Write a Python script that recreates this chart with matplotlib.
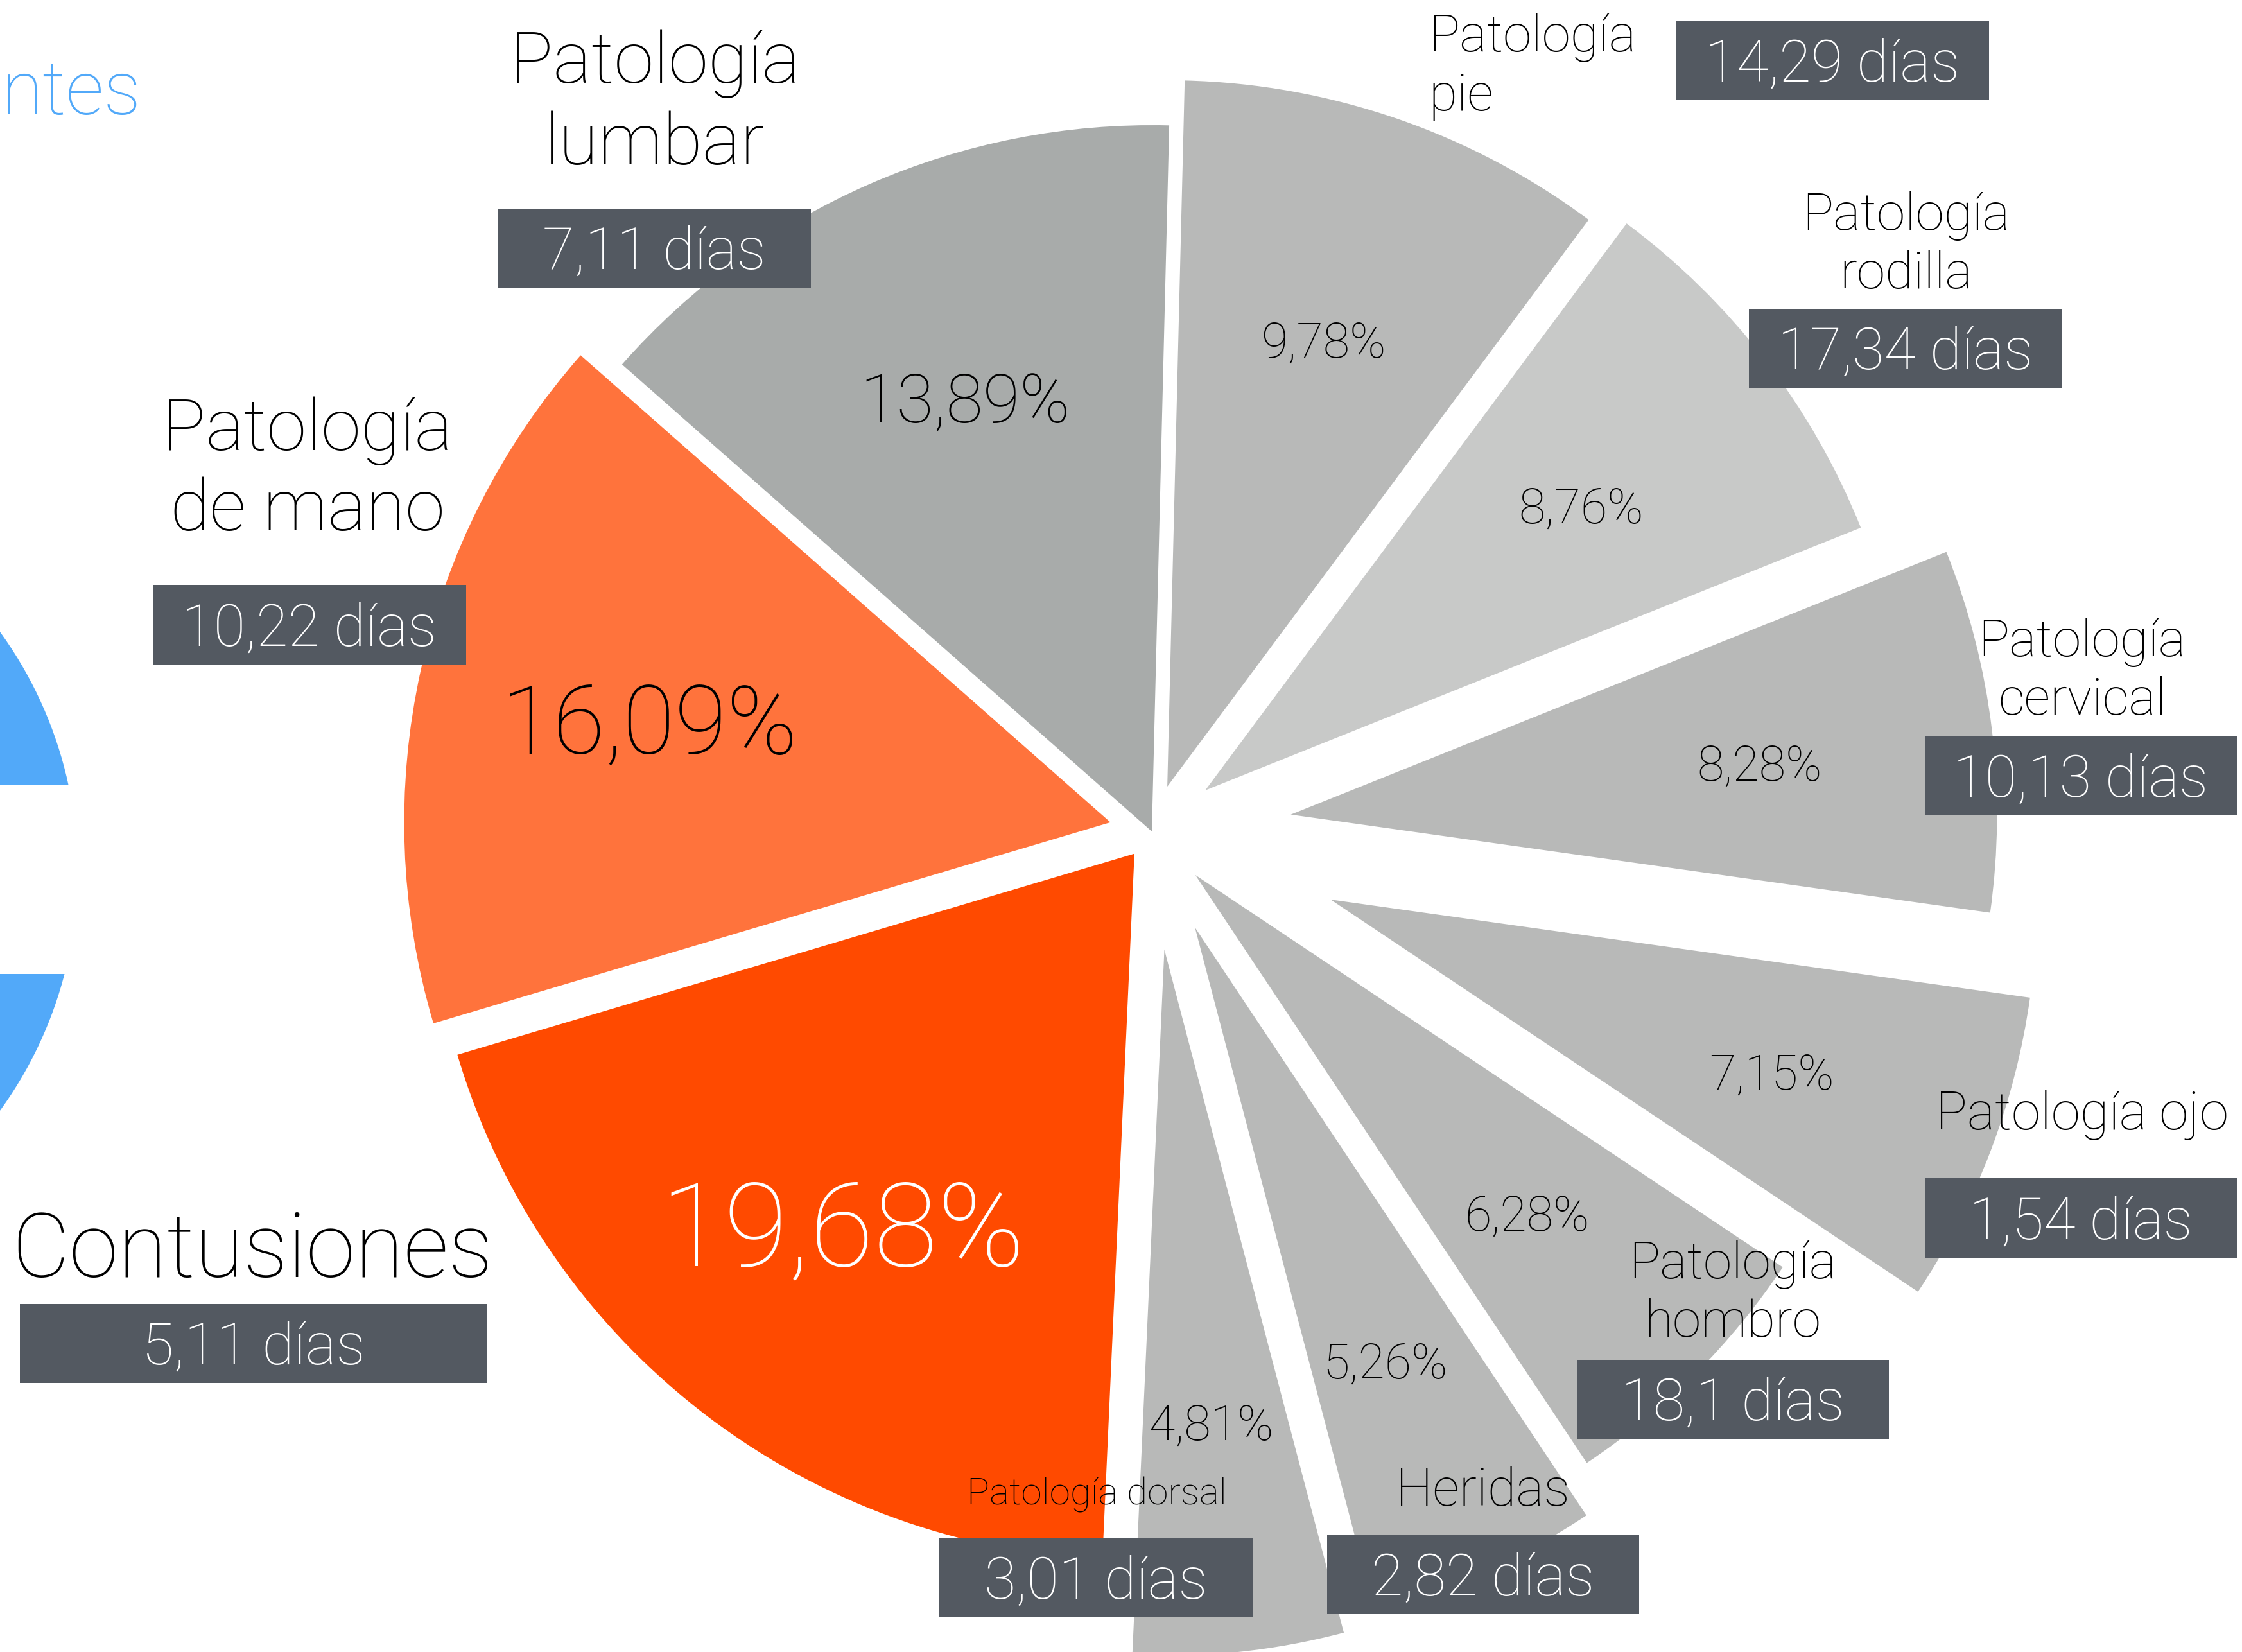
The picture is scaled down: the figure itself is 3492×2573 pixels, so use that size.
import matplotlib
matplotlib.use('Agg')
import matplotlib.pyplot as plt
from matplotlib.patches import Rectangle, Circle

# ---------------- data ----------------
categories = ["Contusiones", "Patología\nde mano", "Patología\nlumbar", "Patología\npie",
              "Patología\nrodilla", "Patología\ncervical", "Patología ojo",
              "Patología\nhombro", "Heridas", "Patología dorsal"]
percentages = [19.68, 16.09, 13.89, 9.78, 8.76, 8.28, 7.15, 6.28, 5.26, 4.81]
dias = [5.11, 10.22, 7.11, 14.29, 17.34, 10.13, 1.54, 18.1, 2.82, 3.01]
side_title = "ntes"

# ---------------- style ----------------
colors = ['#FF4A00', '#FF733C', '#A8ABAA', '#B8B9B8', '#C8C9C8',
          '#B8B9B8', '#B8B9B8', '#B8B9B8', '#B8B9B8', '#B8B9B8']
explode_px = [44, 66, 0, 74, 105, 218, 298, 96, 164, 185]
BOX = '#535961'
BLUE = '#52A9F9'
FONT = ['Roboto', 'DejaVu Sans']
WEIGHT = 'light'
NAME_SCALE = 1.05
BOX_SCALE = 1.07
PCT_SCALE = 1.11

W, H = 3492, 2573
DPI = 100
fig = plt.figure(figsize=(W / DPI, H / DPI), dpi=DPI)
ax = fig.add_axes([0, 0, 1, 1])

# partial blue chart at the left edge
ax.add_patch(Circle((-514, 1357), 635, color=BLUE, lw=0))
ax.add_patch(Rectangle((-700, 1222), 900, 295, color='white', lw=0))

ax.pie(percentages, explode=explode_px, colors=colors, startangle=92.6,
       counterclock=True, radius=1100, center=(1794, 1295),
       wedgeprops=dict(linewidth=0))
ax.set_xlim(0, W)
ax.set_ylim(H, 0)
ax.set_aspect('equal')
ax.axis('off')


def txt(x, y, s, size, color='black', ha='center'):
    ax.text(x, y, s, fontsize=size, color=color, ha=ha, va='baseline',
            family=FONT, fontweight=WEIGHT)


ax.text(2, 178, side_title, fontsize=80 * NAME_SCALE, color=BLUE, ha='left',
        va='baseline', family=FONT, fontweight=WEIGHT)

# name labels: x, first baseline, line spacing, size, ha
name_layout = [
    (393, 1989, 0, 95, 'center'),
    (479, 701, 125, 77, 'center'),
    (1020, 129, 127, 77, 'center'),
    (2225, 80, 91, 55, 'left'),
    (2969, 358, 91, 55, 'center'),
    (3243, 1022, 91, 55, 'center'),
    (3243, 1759, 0, 56, 'center'),
    (2699, 1991, 91, 55, 'center'),
    (2309, 2345, 0, 56, 'center'),
    (1708, 2343, 0, 40, 'center'),
]
# boxes: x0, y0, width, height
box_layout = [
    (31, 2031, 728, 123),
    (238, 911, 488, 124),
    (775, 325, 488, 123),
    (2610, 33, 488, 123),
    (2724, 481, 488, 123),
    (2998, 1147, 486, 123),
    (2998, 1835, 486, 124),
    (2456, 2118, 486, 123),
    (2067, 2390, 486, 124),
    (1463, 2396, 488, 123),
]
BOX_FS = 61
# percentage labels: x, baseline, size, color
pct_layout = [
    (1312, 1971, 118, 'white'),
    (1011, 1174, 96, 'black'),
    (1503, 659, 68, 'black'),
    (2062, 557, 49, 'black'),
    (2463, 815, 49, 'black'),
    (2741, 1216, 49, 'black'),
    (2759, 1697, 49, 'black'),
    (2378, 1917, 49, 'black'),
    (2158, 2147, 49, 'black'),
    (1886, 2243, 49, 'black'),
]

for cat, d, p, nl, bl, pl in zip(categories, dias, percentages, name_layout, box_layout, pct_layout):
    x, y0, sp, fs, ha = nl
    for i, line in enumerate(cat.split('\n')):
        txt(x, y0 + i * sp, line, fs * NAME_SCALE, ha=ha)
    bx, by, bw, bh = bl
    ax.add_patch(Rectangle((bx, by), bw, bh, color=BOX, lw=0, zorder=3))
    ax.text(bx + bw / 2, by + 0.76 * bh, f"{d:g}".replace('.', ',') + " días",
            fontsize=BOX_FS * BOX_SCALE, color='white', ha='center', va='baseline',
            family=FONT, fontweight=WEIGHT, zorder=4)
    px, py, pfs, pc = pl
    txt(px, py, f"{p:.2f}".replace('.', ',') + '%', pfs * PCT_SCALE, color=pc)

fig.savefig('out.png', dpi=DPI)
